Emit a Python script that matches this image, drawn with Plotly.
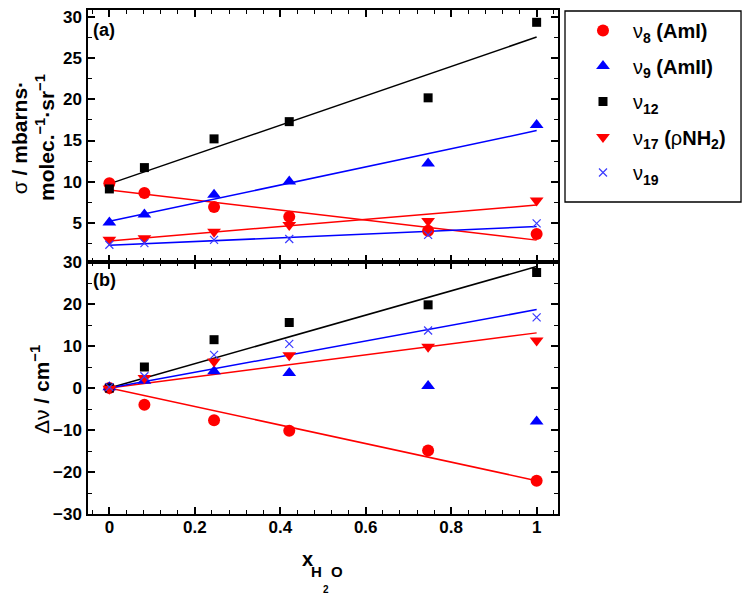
import numpy as np
import plotly.graph_objects as go
from plotly.subplots import make_subplots

# ---- data ----
x_h2o = [0.0, 0.082, 0.245, 0.421, 0.746, 1.0]

# (a) cross sections sigma / mbarns molec^-1 sr^-1
sig_v8 = [9.8, 8.6, 6.9, 5.7, 4.0, 3.6]
sig_v9 = [5.0, 6.0, 8.4, 10.0, 12.2, 16.9]
sig_v12 = [9.1, 11.7, 15.2, 17.3, 20.2, 29.4]
sig_v17 = [2.9, 3.1, 3.9, 4.7, 5.2, 7.7]
sig_v19 = [2.3, 2.5, 2.9, 3.0, 3.5, 4.9]

# (b) shifts delta nu / cm^-1
dnu_v8 = [0.0, -4.0, -7.7, -10.2, -14.9, -22.1]
dnu_v9 = [0.2, 1.7, 4.0, 3.6, 0.5, -8.0]
dnu_v12 = [0.0, 5.0, 11.5, 15.6, 19.8, 27.5]
dnu_v17 = [-0.2, 2.4, 6.3, 7.8, 9.8, 11.3]
dnu_v19 = [0.2, 2.8, 7.9, 10.5, 13.7, 16.8]

names = [
    "ν<sub><b>8</b></sub> <b>(AmI)</b>",
    "ν<sub><b>9</b></sub> <b>(AmII)</b>",
    "ν<sub><b>12</b></sub>",
    "ν<sub><b>17</b></sub> <b>(</b>ρ<b>NH<sub>2</sub>)</b>",
    "ν<sub><b>19</b></sub>",
]

RED = "#ff0000"
BLUE = "#0000ff"
XBLUE = "#3a3aff"
styles = [
    dict(symbol="circle", color=RED, size=12),
    dict(symbol="triangle-up", color=BLUE, size=12),
    dict(symbol="square", color="black", size=9),
    dict(symbol="triangle-down", color=RED, size=12),
    dict(symbol="x-thin", color=XBLUE, size=8, line=dict(color=XBLUE, width=1.2)),
]
line_cols = [RED, BLUE, "black", RED, BLUE]

top_sets = [sig_v8, sig_v9, sig_v12, sig_v17, sig_v19]
bot_sets = [dnu_v8, dnu_v9, dnu_v12, dnu_v17, dnu_v19]
bot_fit = [True, False, True, True, True]

fig = make_subplots(rows=2, cols=1, shared_xaxes=True, vertical_spacing=0)

xa = np.array(x_h2o)
xl = [0.0, 1.0]
# fit lines: (a) ordinary linear fit, (b) fit through origin
for ys, c in zip(top_sets, line_cols):
    m, b = np.polyfit(xa, np.array(ys), 1)
    fig.add_trace(go.Scatter(x=xl, y=[b + m * v for v in xl], mode="lines",
                             line=dict(color=c, width=1.5), showlegend=False,
                             hoverinfo="skip"), row=1, col=1)
for ys, c, f in zip(bot_sets, line_cols, bot_fit):
    if not f:
        continue
    ya = np.array(ys)
    m = float((xa * ya).sum() / (xa * xa).sum())
    fig.add_trace(go.Scatter(x=xl, y=[m * v for v in xl], mode="lines",
                             line=dict(color=c, width=1.5), showlegend=False,
                             hoverinfo="skip"), row=2, col=1)

for i, (nm, st) in enumerate(zip(names, styles)):
    fig.add_trace(go.Scatter(x=x_h2o, y=top_sets[i], mode="markers", name=nm,
                             marker=st, legendgroup=f"g{i}"), row=1, col=1)
for i, (nm, st) in enumerate(zip(names, styles)):
    fig.add_trace(go.Scatter(x=x_h2o, y=bot_sets[i], mode="markers", name=nm,
                             marker=st, legendgroup=f"g{i}", showlegend=False),
                  row=2, col=1)

FONT = "Liberation Sans"
tickfont = dict(family=FONT, size=17, color="black", weight="bold")
common = dict(showline=True, linecolor="black", linewidth=1.5, mirror="ticks",
              ticks="inside", ticklen=7, tickwidth=1.5, tickcolor="black",
              showgrid=False, zeroline=False, tickfont=tickfont, automargin=False)

fig.update_xaxes(range=[-0.05, 1.05], dtick=0.2, tick0=0,
                 minor=dict(dtick=0.04, ticklen=4, tickwidth=1.2, tickcolor="black", ticks="inside"),
                 **common)
fig.update_xaxes(showticklabels=False, row=1, col=1)
fig.update_xaxes(ticklabelstandoff=-3, row=2, col=1)
fig.update_yaxes(range=[0.2, 30.9], dtick=5, tick0=0, ticklabelstandoff=1,
                 minor=dict(dtick=2.5, ticklen=4, tickwidth=1.2, tickcolor="black", ticks="inside"),
                 **common, row=1, col=1)
fig.update_yaxes(range=[-30, 30], dtick=10, tick0=0, ticklabelstandoff=1,
                 minor=dict(dtick=5, ticklen=4, tickwidth=1.2, tickcolor="black", ticks="inside"),
                 **common, row=2, col=1)

def ann(text, x, y, size, angle=0, xanchor="center", yanchor="middle"):
    fig.add_annotation(text=text, xref="paper", yref="paper", x=x, y=y,
                       textangle=angle, xanchor=xanchor, yanchor=yanchor,
                       showarrow=False, font=dict(family=FONT, size=size, color="black"))

ann("<b>(a)</b>", 0.006, 0.96, 18, xanchor="left")
ann("<b>(b)</b>", 0.006, 0.464, 18, xanchor="left")
ann("σ <b>/ mbarns·</b><br><b>molec.<sup>−1</sup>·sr<sup>−1</sup></b>", -0.117, 0.746, 21, angle=-90)
ann("Δν <b>/ cm<sup>−1</sup></b>", -0.102, 0.246, 21, angle=-90)
# x-axis title  x_{H2O}
ann("<b>x</b>", 0.4665, -0.089, 20)
ann("<b>H</b>", 0.4872, -0.1145, 15)
ann("<b>2</b>", 0.5064, -0.149, 10)
ann("<b>O</b>", 0.5298, -0.1145, 15)

# legend frame
fig.add_shape(type="rect", xref="paper", yref="paper",
              x0=1.0149, x1=1.3894, y0=0.619, y1=0.998,
              line=dict(color="black", width=1.3), fillcolor="rgba(0,0,0,0)")

fig.update_layout(
    width=752, height=595,
    margin=dict(l=88, r=194, t=10, b=81),
    paper_bgcolor="white", plot_bgcolor="white",
    font=dict(family=FONT, color="black"),
    legend=dict(x=1.0319, y=0.998, xanchor="left", yanchor="top",
                borderwidth=0, bgcolor="rgba(0,0,0,0)",
                font=dict(family=FONT, size=20, color="black"),
                itemwidth=50, tracegroupgap=6.5),
    showlegend=True,
)

fig.write_html("out.html", config={"displayModeBar": False},
               post_script="document.body.style.margin='0px';")
